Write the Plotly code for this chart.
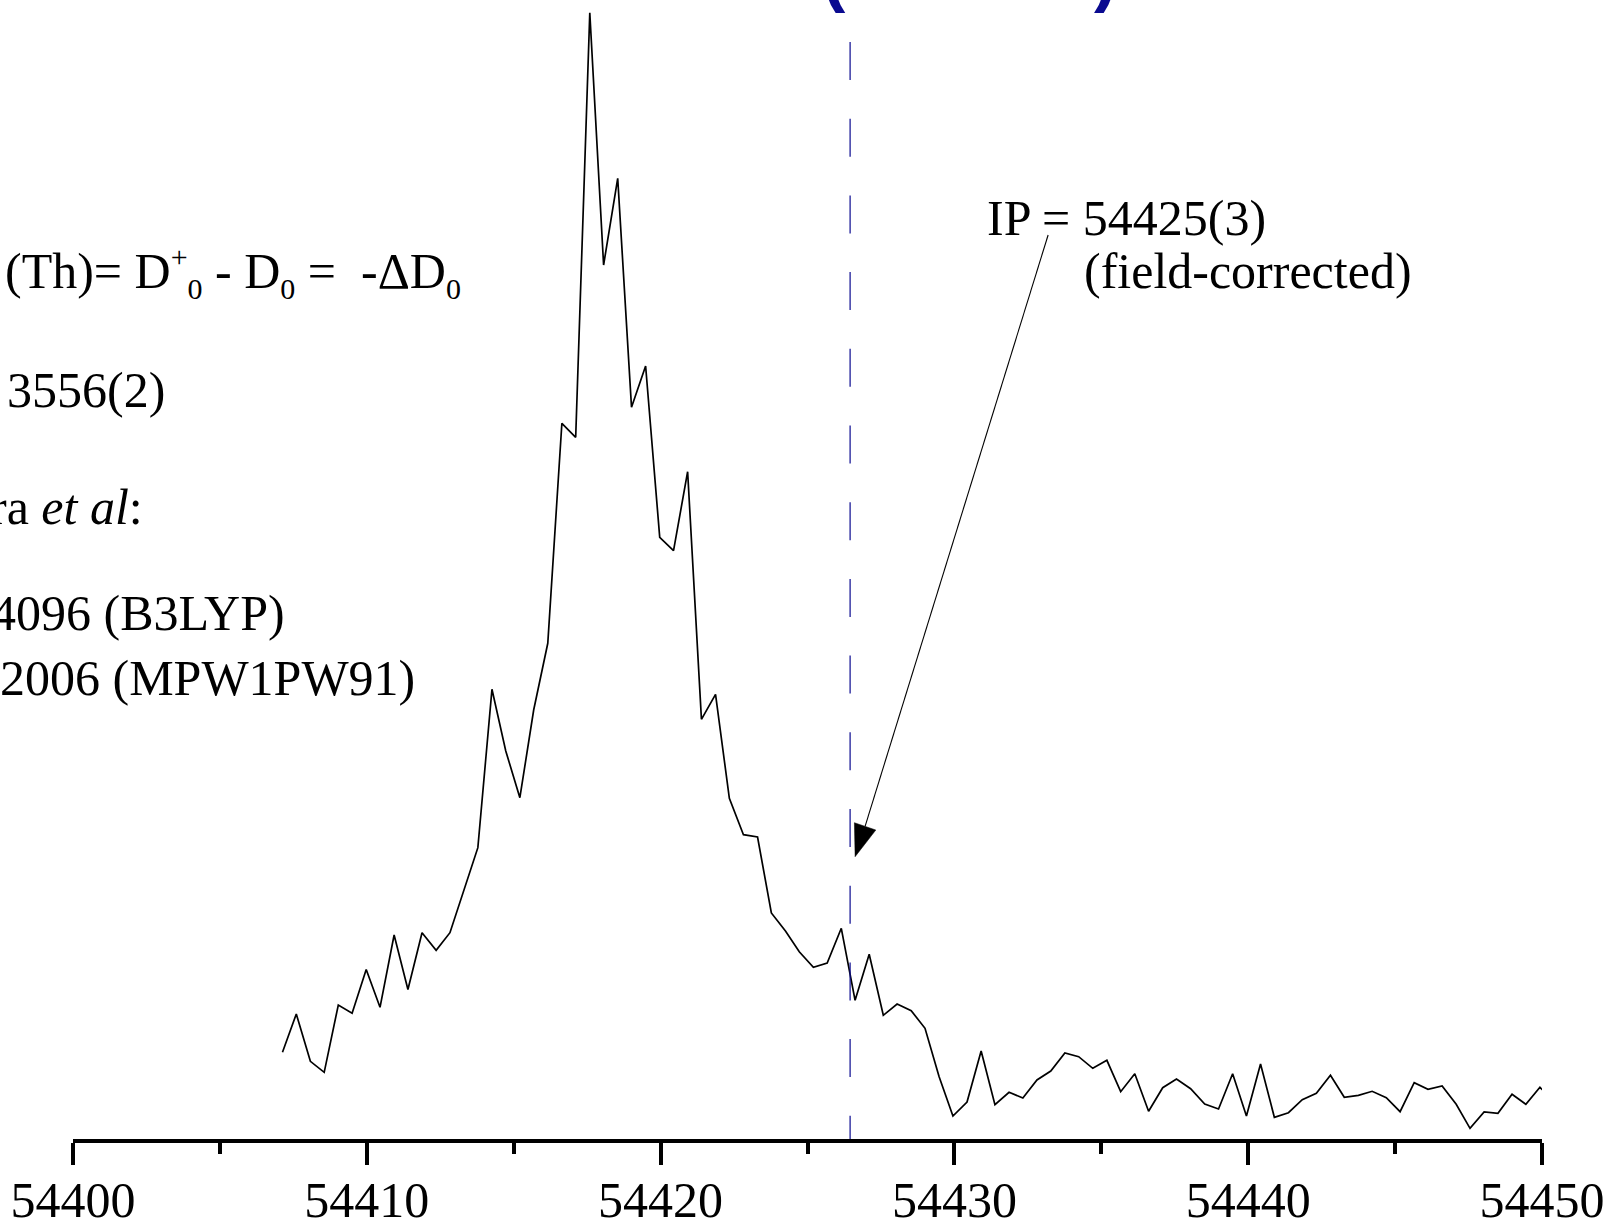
import plotly.graph_objects as go

# ---- data ----
wavenumber = [
    54407.13, 54407.60, 54408.08, 54408.55, 54409.03, 54409.50, 54409.98, 54410.45,
    54410.93, 54411.40, 54411.88, 54412.36, 54412.83, 54413.31, 54413.78, 54414.26,
    54414.73, 54415.21, 54415.68, 54416.16, 54416.64, 54417.11, 54417.59, 54418.06,
    54418.54, 54419.01, 54419.49, 54419.97, 54420.44, 54420.92, 54421.39, 54421.87,
    54422.34, 54422.82, 54423.30, 54423.77, 54424.25, 54424.72, 54425.20, 54425.67,
    54426.15, 54426.62, 54427.10, 54427.58, 54428.05, 54428.53, 54429.00, 54429.48,
    54429.95, 54430.43, 54430.91, 54431.38, 54431.86, 54432.33, 54432.81, 54433.28,
    54433.76, 54434.23, 54434.71, 54435.19, 54435.66, 54436.14, 54436.61, 54437.09,
    54437.56, 54438.04, 54438.52, 54438.99, 54439.47, 54439.94, 54440.42, 54440.89,
    54441.37, 54441.84, 54442.32, 54442.80, 54443.27, 54443.75, 54444.22, 54444.70,
    54445.17, 54445.65, 54446.12, 54446.60, 54447.08, 54447.55, 54448.03, 54448.50,
    54448.98, 54449.45, 54449.93, 54450.40,
]
signal = [
    8.67, 12.5, 7.77, 6.67, 13.4, 12.57, 16.95, 13.17,
    20.4, 14.95, 20.63, 18.87, 20.63, 25.03, 29.13, 44.97,
    38.8, 34.13, 42.9, 49.57, 71.57, 70.17, 112.63, 87.4,
    96.07, 73.17, 77.3, 60.17, 58.83, 66.73, 41.97, 44.47,
    34.07, 30.43, 30.2, 22.6, 20.8, 18.73, 17.17, 17.6,
    21.07, 13.87, 18.48, 12.37, 13.5, 12.83, 11.07, 6.23,
    2.3, 3.7, 8.8, 3.43, 4.67, 4.1, 5.9, 6.8,
    8.6, 8.23, 7.07, 7.87, 4.73, 6.53, 2.77, 5.13,
    6.0, 5.03, 3.5, 3.0, 6.53, 2.3, 7.5, 2.17,
    2.63, 3.93, 4.57, 6.37, 4.17, 4.37, 4.77, 4.13,
    2.73, 5.63, 4.97, 5.3, 3.47, 1.07, 2.7, 2.57,
    4.47, 3.47, 5.17, 3.8,
]
x_range = [54400, 54450]
y_range = [0, 113.9]
ip_line_x = 54426.45
ip_line_top = 109.7
arrow_tail = (54433.19, 90.4)
arrow_base = (54426.96, 31.27)
arrow_tip = (54426.62, 28.23)

SERIF = "Liberation Serif"
NAVY = "#0a0a90"

fig = go.Figure()
fig.add_trace(go.Scatter(
    x=wavenumber, y=signal, mode="lines",
    line=dict(color="black", width=1.7),
    hoverinfo="skip", showlegend=False,
))

L, R, T, B = 73, 67, 0, 81
PW = 1609 - L - R
PH = 1220 - T - B


def px_x(px):
    return (px - L) / PW


def px_y(py):
    return 1 - (py - T) / PH


shapes = [
    dict(type="line", xref="x", yref="y", x0=ip_line_x, x1=ip_line_x,
         y0=ip_line_top, y1=0, line=dict(color=NAVY, width=1.2, dash="38px,38.7px")),
    dict(type="line", xref="x", yref="y", x0=arrow_tail[0], y0=arrow_tail[1],
         x1=arrow_base[0], y1=arrow_base[1], line=dict(color="black", width=1.1)),
    dict(type="path", xref="x", yref="y", xsizemode="pixel", ysizemode="pixel",
         xanchor=arrow_tip[0], yanchor=arrow_tip[1],
         path="M 0,0 L -0.7,34 L 20.7,26.7 Z",
         fillcolor="black", line=dict(color="black", width=0.5)),
]

font = dict(family=SERIF, size=50, color="black")
ann = []


def add_text(text, px, py_top, anchor="left"):
    ann.append(dict(text=text, xref="paper", yref="paper", x=px_x(px), y=px_y(py_top),
                    xanchor=anchor, yanchor="top", showarrow=False, font=font,
                    align="left"))


def small(t):
    return '<span style="font-size:30px">' + t + '</span>'


line1 = ("(Th)= D<sup>" + small("+") + "</sup><sub>" + small("0") + "</sub> - D<sub>"
         + small("0") + "</sub> =&nbsp;&nbsp;-ΔD<sub>" + small("0") + "</sub>")
add_text(line1, 3, 238.3)
add_text("3556(2)", 167, 359.5, "right")
add_text("ra <i>et al</i>:", 145, 476.5, "right")
add_text("4096 (B3LYP)", 287, 582.5, "right")
add_text("2006 (MPW1PW91)", 417, 647.5, "right")
add_text("IP = 54425(3)", 985, 188.5)
add_text("(field-corrected)", 1082, 241.5)

# bottoms of the (cut-off) title parentheses
for ch, px in (("(", 820), (")", 1092)):
    ann.append(dict(text="<b>" + ch + "</b>", xref="paper", yref="paper",
                    x=px_x(px), y=1, yshift=-15, xanchor="left", yanchor="bottom",
                    showarrow=False,
                    font=dict(family="Liberation Sans", size=70, color=NAVY)))

fig.update_layout(
    width=1609, height=1220,
    margin=dict(l=L, r=R, t=T, b=B, pad=0, autoexpand=False),
    paper_bgcolor="white", plot_bgcolor="white",
    showlegend=False,
    xaxis=dict(
        range=x_range, showgrid=False, zeroline=False, automargin=False,
        showline=True, linecolor="black", linewidth=4,
        ticks="outside", ticklen=22, tickwidth=3.5, tickcolor="black",
        tick0=54400, dtick=10, tickformat="d", ticklabelstandoff=-8,
        tickfont=dict(family=SERIF, size=50, color="black"),
        minor=dict(ticks="outside", ticklen=11, tickwidth=3.5, tickcolor="black",
                   dtick=5, tick0=54400, showgrid=False),
        fixedrange=True,
    ),
    yaxis=dict(range=y_range, visible=False, fixedrange=True, automargin=False),
    shapes=shapes,
    annotations=ann,
)

fig.write_html(
    "out.html",
    config={"displayModeBar": False},
    post_script="document.documentElement.style.margin='0';"
                "document.body.style.margin='0';"
                "document.body.style.overflow='hidden';",
)
